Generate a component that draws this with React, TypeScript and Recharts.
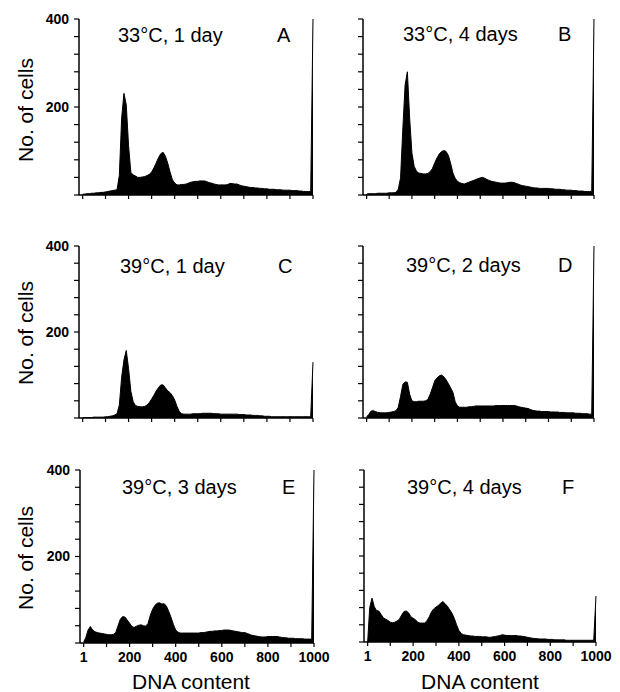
import { AreaChart, Area, XAxis, YAxis } from "recharts";

// channel bins (DNA content)
const channels = [
  1, 10, 20, 30, 40, 50, 60, 70, 80, 90,
  100, 110, 120, 130, 140, 150, 160, 170, 180, 190,
  200, 210, 220, 230, 240, 250, 260, 270, 280, 290,
  300, 310, 320, 330, 340, 350, 360, 370, 380, 390,
  400, 410, 420, 430, 440, 450, 460, 470, 480, 490,
  500, 510, 520, 530, 540, 550, 560, 570, 580, 590,
  600, 610, 620, 630, 640, 650, 660, 670, 680, 690,
  700, 710, 720, 730, 740, 750, 760, 770, 780, 790,
  800, 810, 820, 830, 840, 850, 860, 870, 880, 890,
  900, 910, 920, 930, 940, 950, 960, 970, 980, 990,
  1000,
];

// No. of cells per bin, one list per panel
const cells33c1d = [
  2, 2, 3, 3, 4, 4, 5, 5, 6, 6,
  7, 8, 9, 10, 11, 12, 45, 175, 231, 205,
  112, 51, 46, 43, 40, 40, 41, 42, 44, 47,
  52, 62, 73, 85, 94, 97, 88, 72, 52, 35,
  27, 23, 23, 24, 24, 25, 27, 29, 30, 31,
  31, 32, 32, 32, 30, 28, 27, 25, 24, 23,
  23, 23, 23, 24, 26, 26, 25, 25, 23, 21,
  20, 19, 18, 17, 17, 16, 16, 15, 15, 14,
  14, 13, 13, 13, 12, 12, 12, 11, 11, 11,
  11, 10, 10, 10, 9, 9, 8, 8, 8, 8,
  400,
];
const cells33c4d = [
  2, 3, 3, 3, 3, 4, 4, 4, 4, 4,
  5, 5, 5, 6, 13, 39, 150, 250, 280, 175,
  95, 65, 54, 50, 49, 48, 48, 49, 53, 60,
  73, 84, 93, 99, 101, 99, 90, 72, 50, 38,
  31, 28, 26, 25, 27, 29, 31, 33, 35, 37,
  39, 40, 38, 35, 33, 31, 30, 29, 28, 27,
  27, 27, 28, 29, 29, 28, 26, 24, 22, 21,
  20, 19, 18, 17, 16, 16, 15, 15, 15, 15,
  15, 14, 14, 13, 13, 13, 12, 12, 11, 11,
  11, 10, 10, 9, 9, 9, 8, 8, 8, 8,
  400,
];
const cells39c1d = [
  1, 1, 1, 1, 1, 2, 2, 2, 2, 2,
  3, 3, 4, 5, 7, 10, 30, 95, 135, 157,
  115, 62, 38, 29, 27, 26, 26, 27, 30, 36,
  44, 53, 63, 71, 77, 77, 70, 63, 59, 52,
  42, 27, 15, 10, 9, 9, 9, 9, 10, 10,
  10, 10, 11, 11, 11, 11, 11, 10, 10, 10,
  9, 9, 9, 9, 9, 9, 9, 9, 8, 8,
  8, 7, 7, 7, 6, 6, 6, 5, 5, 4,
  4, 4, 3, 3, 3, 3, 3, 3, 3, 3,
  3, 3, 3, 3, 3, 3, 3, 3, 3, 3,
  130,
];
const cells39c2d = [
  3, 8, 16, 17, 15, 13, 12, 12, 12, 12,
  13, 14, 15, 17, 25, 50, 78, 84, 83, 55,
  40, 38, 38, 39, 39, 39, 40, 43, 55, 70,
  86, 93, 98, 100, 96, 89, 80, 70, 60, 38,
  28, 25, 25, 25, 25, 26, 26, 27, 28, 28,
  28, 28, 28, 28, 28, 28, 28, 29, 29, 29,
  29, 29, 29, 29, 29, 29, 28, 26, 25, 24,
  23, 22, 20, 18, 17, 16, 16, 15, 15, 15,
  15, 14, 14, 14, 14, 13, 13, 13, 12, 12,
  12, 12, 11, 11, 11, 10, 10, 10, 9, 9,
  400,
];
const cells39c3d = [
  3, 12, 30, 38, 30, 26, 24, 23, 22, 21,
  20, 19, 19, 20, 24, 40, 55, 61, 60, 53,
  46, 38, 36, 39, 41, 42, 40, 39, 45, 64,
  78, 87, 92, 93, 90, 91, 85, 73, 59, 43,
  30, 25, 23, 23, 23, 23, 23, 23, 23, 23,
  23, 24, 24, 25, 26, 27, 27, 28, 28, 29,
  29, 30, 30, 30, 29, 28, 27, 26, 25, 24,
  24, 22, 20, 18, 17, 16, 15, 14, 14, 14,
  15, 15, 15, 15, 15, 14, 13, 12, 12, 11,
  11, 11, 10, 10, 10, 10, 9, 9, 9, 9,
  400,
];
const cells39c4d = [
  0, 80, 102, 82, 73, 72, 64, 56, 53, 50,
  46, 45, 46, 49, 53, 63, 71, 72, 68, 59,
  55, 52, 46, 44, 44, 44, 49, 58, 70, 77,
  81, 85, 90, 94, 89, 83, 75, 67, 55, 40,
  27, 20, 17, 16, 15, 14, 14, 13, 13, 13,
  12, 12, 12, 11, 11, 12, 13, 14, 15, 17,
  16, 15, 15, 15, 15, 15, 14, 14, 13, 12,
  11, 10, 9, 8, 8, 7, 7, 7, 7, 6,
  6, 6, 5, 5, 5, 5, 5, 4, 4, 4,
  4, 4, 4, 4, 4, 4, 4, 4, 4, 4,
  107,
];

const xTicks = [1, 100, 200, 300, 400, 500, 600, 700, 800, 900, 1000];
const xLabelled = [1, 200, 400, 600, 800, 1000];
const yTicks = [0, 40, 80, 120, 160, 200, 240, 280, 320, 360, 400];
const yLabelled = [200, 400];

const font = "'Liberation Sans', Arial, sans-serif";

interface PanelProps {
  values: number[];
  left: number;
  right: number;
  top: number;
  bottom: number;
  yLabels: boolean;
  xLabels: boolean;
}

function Panel({ values, left, right, top, bottom, yLabels, xLabels }: PanelProps) {
  const data = channels.map((ch, i) => ({ ch, cells: values[i] }));
  const yw = 45;
  const xh = 30;
  const pad = 10;
  const padRight = 24;
  const tickStyle = { fill: "#000", fontFamily: font, fontWeight: 700, fontSize: 14 };
  return (
    <div style={{ position: "absolute", left: left - yw, top: top - pad }}>
      <AreaChart
        width={right - left + yw + padRight}
        height={bottom - top + pad + xh}
        data={data}
        margin={{ top: pad, right: padRight, bottom: 0, left: 0 }}
      >
        <XAxis
          dataKey="ch"
          type="number"
          domain={[-15, 1000]}
          ticks={xTicks}
          interval={0}
          height={xh}
          tickSize={4}
          tickMargin={5}
          axisLine={{ stroke: "#000", strokeWidth: 1.5 }}
          tickLine={{ stroke: "#000", strokeWidth: 1.2 }}
          tick={tickStyle}
          tickFormatter={(v: number) => (xLabels && xLabelled.includes(v) ? String(v) : "")}
        />
        <YAxis
          type="number"
          domain={[0, 400]}
          ticks={yTicks}
          interval={0}
          width={yw}
          tickSize={5}
          tickMargin={5}
          axisLine={{ stroke: "#000", strokeWidth: 1.5 }}
          tickLine={{ stroke: "#000", strokeWidth: 1.2 }}
          tick={tickStyle}
          tickFormatter={(v: number) => (yLabels && yLabelled.includes(v) ? String(v) : "")}
        />
        <Area
          type="linear"
          dataKey="cells"
          stroke="#000"
          strokeWidth={1}
          fill="#000"
          fillOpacity={1}
          dot={false}
          activeDot={false}
          isAnimationActive={false}
        />
      </AreaChart>
    </div>
  );
}

export default function App() {
  return (
    <div style={{ position: "absolute", left: 0, top: 0, width: 620, height: 692, background: "#fff", overflow: "hidden" }}>
      <Panel values={cells33c1d} left={79} right={313} top={19} bottom={195} yLabels xLabels={false} />
      <Panel values={cells33c4d} left={363} right={594} top={19} bottom={195} yLabels={false} xLabels={false} />
      <Panel values={cells39c1d} left={79} right={313} top={246} bottom={418} yLabels xLabels={false} />
      <Panel values={cells39c2d} left={363} right={594} top={246} bottom={418} yLabels={false} xLabels={false} />
      <Panel values={cells39c3d} left={80} right={314} top={470} bottom={643} yLabels xLabels />
      <Panel values={cells39c4d} left={364} right={596} top={470} bottom={642} yLabels={false} xLabels />
      <svg
        width={620}
        height={692}
        style={{ position: "absolute", left: 0, top: 0, pointerEvents: "none" }}
        fontFamily={font}
        fill="#000"
      >
        <g fontSize={20}>
          <text x={118} y={42}>33°C, 1 day</text>
          <text x={277} y={42}>A</text>
          <text x={403} y={41}>33°C, 4 days</text>
          <text x={558} y={41}>B</text>
          <text x={120} y={273}>39°C, 1 day</text>
          <text x={278} y={273}>C</text>
          <text x={406} y={272}>39°C, 2 days</text>
          <text x={558} y={272}>D</text>
          <text x={122} y={494}>39°C, 3 days</text>
          <text x={282} y={494}>E</text>
          <text x={407} y={494}>39°C, 4 days</text>
          <text x={562} y={494}>F</text>
        </g>
        <g fontSize={21} textAnchor="middle">
          <text x={33} y={110} transform="rotate(-90 33 110)">No. of cells</text>
          <text x={33} y={333} transform="rotate(-90 33 333)">No. of cells</text>
          <text x={33} y={558} transform="rotate(-90 33 558)">No. of cells</text>
          <text x={191} y={689}>DNA content</text>
          <text x={480} y={689}>DNA content</text>
        </g>
      </svg>
    </div>
  );
}
